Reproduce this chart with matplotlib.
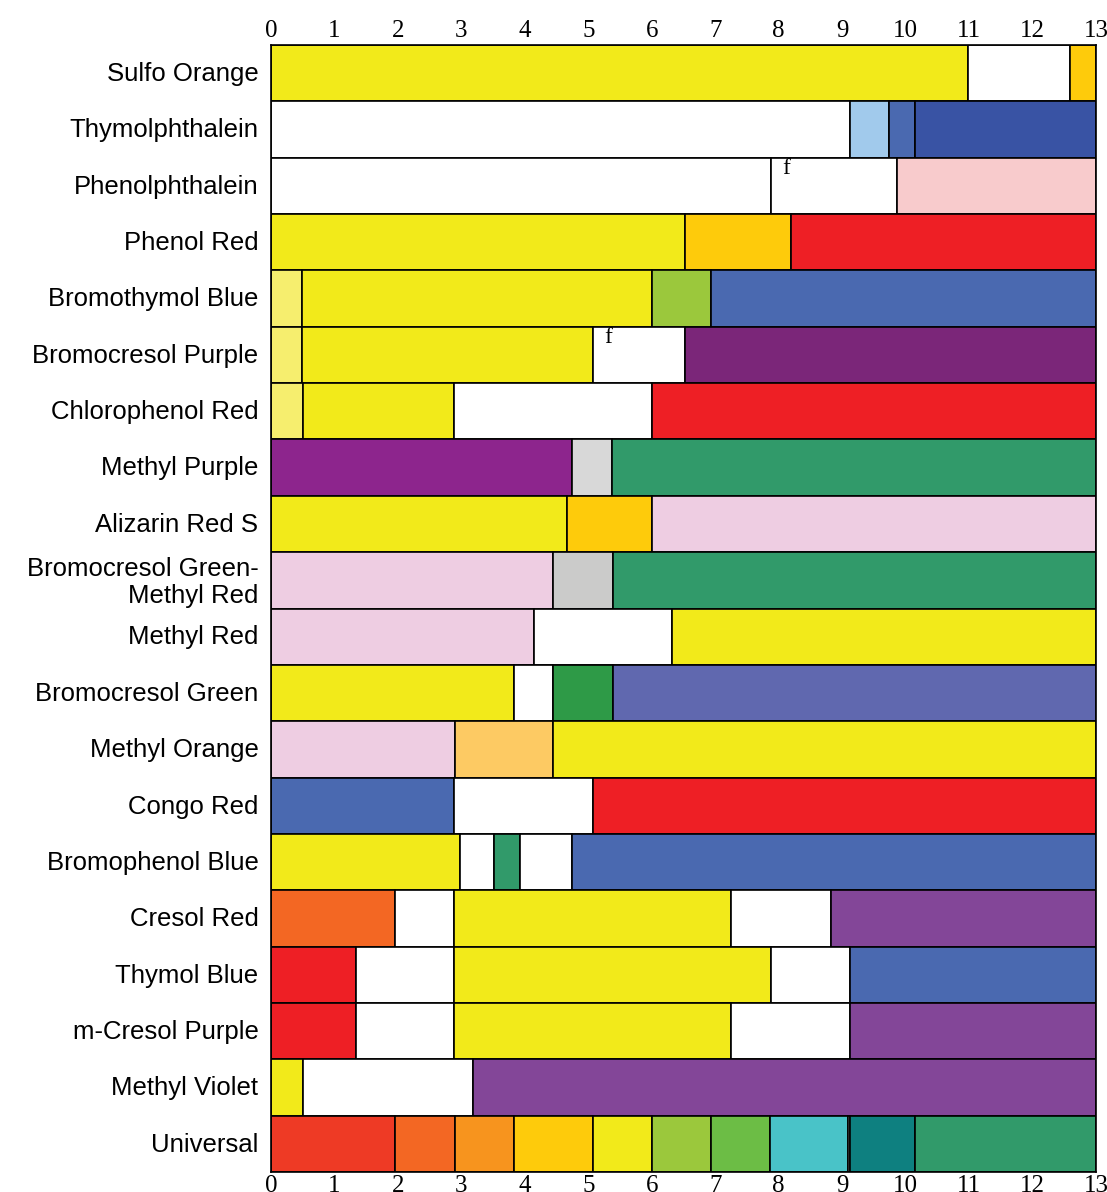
import matplotlib.pyplot as plt

# indicator names, top row first
indicators = ['Sulfo Orange', 'Thymolphthalein', 'Phenolphthalein', 'Phenol Red',
              'Bromothymol Blue', 'Bromocresol Purple', 'Chlorophenol Red',
              'Methyl Purple', 'Alizarin Red S', 'Bromocresol Green-\nMethyl Red',
              'Methyl Red', 'Bromocresol Green', 'Methyl Orange', 'Congo Red',
              'Bromophenol Blue', 'Cresol Red', 'Thymol Blue', 'm-Cresol Purple',
              'Methyl Violet', 'Universal']

# pH where each colour band ends (bands start at 0 and follow on)
stops = [
    [10.99, 12.59, 13],
    [9.12, 9.74, 10.15, 13],
    [7.88, 9.86, 13],
    [6.52, 8.19, 13],
    [0.49, 6.0, 6.93, 13],
    [0.49, 5.07, 6.52, 13],
    [0.5, 2.89, 6.0, 13],
    [4.75, 5.38, 13],
    [4.66, 6.0, 13],
    [4.44, 5.39, 13],
    [4.14, 6.32, 13],
    [3.83, 4.44, 5.39, 13],
    [2.9, 4.44, 13],
    [2.89, 5.07, 13],
    [2.98, 3.51, 3.92, 4.75, 13],
    [1.95, 2.89, 7.25, 8.82, 13],
    [1.34, 2.89, 7.88, 9.12, 13],
    [1.34, 2.89, 7.25, 9.12, 13],
    [0.5, 3.19, 13],
    [1.95, 2.9, 3.83, 5.07, 6.01, 6.93, 7.87, 9.09, 9.12, 10.15, 13],
]

shades = [
    ['#F2EA1A', '#FFFFFF', '#FECB0B'],
    ['#FFFFFF', '#A1CAEC', '#4A69B0', '#3953A4'],
    ['#FFFFFF', '#FFFFFF', '#F8CBCC'],
    ['#F2EA1A', '#FECB0B', '#EE1F25'],
    ['#F6EE6E', '#F2EA1A', '#9BC83C', '#4A69B0'],
    ['#F6EE6E', '#F2EA1A', '#FFFFFF', '#7B2679'],
    ['#F6EE6E', '#F2EA1A', '#FFFFFF', '#EE1F25'],
    ['#8D258D', '#D8D8D8', '#319A6A'],
    ['#F2EA1A', '#FECB0B', '#EECDE2'],
    ['#EECDE2', '#CBCBCA', '#319A6A'],
    ['#EECDE2', '#FFFFFF', '#F2EA1A'],
    ['#F2EA1A', '#FFFFFF', '#2E9A47', '#6068AF'],
    ['#EECDE2', '#FDCA63', '#F2EA1A'],
    ['#4A69B0', '#FFFFFF', '#EE1F25'],
    ['#F2EA1A', '#FFFFFF', '#319A6A', '#FFFFFF', '#4A69B0'],
    ['#F36723', '#FFFFFF', '#F2EA1A', '#FFFFFF', '#834698'],
    ['#EE1F25', '#FFFFFF', '#F2EA1A', '#FFFFFF', '#4A69B0'],
    ['#EE1F25', '#FFFFFF', '#F2EA1A', '#FFFFFF', '#834698'],
    ['#F2EA1A', '#FFFFFF', '#834698'],
    ['#EE3A25', '#F36723', '#F7941E', '#FECB0B', '#F2EA1A', '#9BC83C',
     '#6CBD45', '#49C3C8', '#FFFFFF', '#0E8080', '#319A6A'],
]

# fading-range marks: (row, pH where the marked band starts)
f_marks = [(2, 7.88), (5, 5.07)]

ph_ticks = list(range(14))

fig = plt.figure(figsize=(11.07, 11.92), dpi=100)
ax = fig.add_axes([0.2448, 0.0168, 0.7453, 0.9454])

for row, (ends, cols) in enumerate(zip(stops, shades)):
    start = 0
    for end, c in zip(ends, cols):
        ax.barh(row, end - start, left=start, height=1, color=c,
                edgecolor='black', linewidth=1.2)
        start = end

for row, x in f_marks:
    ax.text(x + 0.24, row - 0.5, 'f', family='Liberation Serif', fontsize=17,
            ha='center', va='top')

ax.set_xlim(0, 13)
ax.set_ylim(len(indicators) - 0.5, -0.5)
ax.set_yticks([r - 0.03 for r in range(len(indicators))])
ax.set_yticklabels(indicators, family='Liberation Sans', fontsize=18.5,
                   linespacing=1.15)
ax.set_xticks(ph_ticks)
ax.set_xticklabels([str(t) for t in ph_ticks], family='Liberation Serif',
                   fontsize=18)
ax.tick_params(axis='x', length=0, pad=2, top=True, labeltop=True)
ax.tick_params(axis='y', length=0, pad=9)
for s in ax.spines.values():
    s.set_linewidth(1.2)

fig.savefig('out.png', dpi=100)
